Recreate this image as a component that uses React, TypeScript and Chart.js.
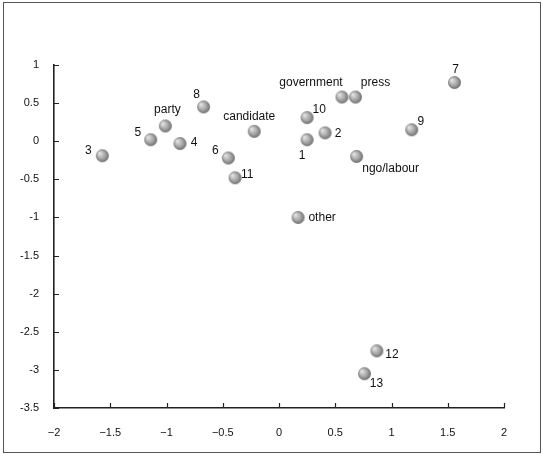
import React, { useEffect, useRef } from "react";
import { Chart, registerables } from "chart.js";

Chart.register(...registerables);

// ---- data ----
const pointNames = [
  "1", "2", "3", "4", "5", "6", "7", "8", "9", "10", "11", "12", "13",
  "party", "candidate", "government", "press", "ngo/labour", "other",
];
const xValues = [
  0.25, 0.41, -1.57, -0.88, -1.14, -0.45, 1.56, -0.67, 1.18, 0.25, -0.39, 0.87, 0.76,
  -1.01, -0.22, 0.56, 0.68, 0.69, 0.17,
];
const yValues = [
  0.02, 0.11, -0.19, -0.03, 0.02, -0.22, 0.77, 0.45, 0.15, 0.31, -0.48, -2.75, -3.05,
  0.2, 0.13, 0.58, 0.58, -0.2, -1.0,
];
const xAxisRange = [-2, 2];
const yAxisRange = [-3.5, 1];
const tickStep = 0.5;

// label placement relative to each point (pixels), purely presentational
const labelOffsets: [number, number][] = [
  [-5, 16], [13, 1], [-14, -5], [14, -1], [-13, -7], [-13, -7], [1, -13], [-7, -12],
  [9, -8], [12, -8], [12, -3], [15, 4], [12, 10],
  [2, -16], [-5, -15], [-31, -14], [20, -14], [34, 12], [24, 0],
];

const FONT = '"Liberation Sans", Arial, sans-serif';

function makeSphere(r: number): HTMLCanvasElement {
  const c = document.createElement("canvas");
  const s = Math.ceil(r * 2) + 2;
  c.width = s;
  c.height = s;
  const ctx = c.getContext("2d")!;
  const cx = s / 2;
  const cy = s / 2;
  const g = ctx.createRadialGradient(cx - r * 0.45, cy - r * 0.4, 0.5, cx, cy, r * 1.05);
  g.addColorStop(0, "#e4e4e4");
  g.addColorStop(0.55, "#a8a8a8");
  g.addColorStop(1, "#6a6a6a");
  ctx.fillStyle = g;
  ctx.beginPath();
  ctx.arc(cx, cy, r, 0, Math.PI * 2);
  ctx.fill();
  return c;
}

const framePlugin = {
  id: "frame",
  beforeDraw(chart: any) {
    const ctx = chart.ctx;
    ctx.save();
    ctx.fillStyle = "#ffffff";
    ctx.fillRect(0, 0, chart.width, chart.height);
    ctx.strokeStyle = "#555555";
    ctx.lineWidth = 1;
    ctx.strokeRect(3.5, 2.5, 537, 450);
    ctx.restore();
  },
};

const innerTicksPlugin = {
  id: "innerTicks",
  afterDraw(chart: any) {
    const ctx = chart.ctx;
    const xs = chart.scales.x;
    const ys = chart.scales.y;
    ctx.save();
    ctx.strokeStyle = "#222222";
    ctx.lineWidth = 1.2;
    ctx.beginPath();
    xs.ticks.forEach((t: any) => {
      const px = Math.round(xs.getPixelForValue(t.value)) + 0.5;
      ctx.moveTo(px, ys.bottom);
      ctx.lineTo(px, ys.bottom - 5);
    });
    ys.ticks.forEach((t: any) => {
      const py = Math.round(ys.getPixelForValue(t.value)) + 0.5;
      ctx.moveTo(xs.left, py);
      ctx.lineTo(xs.left + 5, py);
    });
    ctx.stroke();
    ctx.restore();
  },
};

const pointLabelPlugin = {
  id: "pointLabels",
  afterDatasetsDraw(chart: any) {
    const ctx = chart.ctx;
    const meta = chart.getDatasetMeta(0);
    ctx.save();
    ctx.font = `12px ${FONT}`;
    ctx.fillStyle = "#111111";
    ctx.textAlign = "center";
    ctx.textBaseline = "middle";
    meta.data.forEach((el: any, i: number) => {
      const [dx, dy] = labelOffsets[i] || [0, 0];
      ctx.fillText(pointNames[i], el.x + dx, el.y + dy);
    });
    ctx.restore();
  },
};

export default function App() {
  const ref = useRef<HTMLCanvasElement | null>(null);
  useEffect(() => {
    document.body.style.margin = "0";
    if (!ref.current) return;
    const sphere = makeSphere(6.5);
    const chart = new Chart(ref.current, {
      type: "scatter",
      data: {
        labels: pointNames,
        datasets: [
          {
            data: xValues.map((x, i) => ({ x, y: yValues[i] })),
            pointStyle: sphere as any,
            pointRadius: 7,
            pointHoverRadius: 7,
          },
        ],
      },
      options: {
        animation: false,
        responsive: false,
        devicePixelRatio: 1,
        events: [],
        layout: { padding: { left: 0, top: 65, right: 39, bottom: 0 } },
        plugins: {
          legend: { display: false },
          tooltip: { enabled: false },
        },
        scales: {
          x: {
            type: "linear",
            min: xAxisRange[0],
            max: xAxisRange[1],
            grid: { display: false },
            border: { display: true, color: "#222222", width: 1.6 },
            afterFit(scale: any) {
              scale.height = 46;
            },
            ticks: {
              stepSize: tickStep,
              padding: 10,
              color: "#111111",
              font: { size: 11, family: FONT },
              maxRotation: 0,
              callback: (v: any) => String(Number(v)).replace("-", "\u2212"),
            },
          },
          y: {
            type: "linear",
            min: yAxisRange[0],
            max: yAxisRange[1],
            grid: { display: false },
            border: { display: true, color: "#222222", width: 1.6 },
            afterFit(scale: any) {
              scale.width = 54;
            },
            ticks: {
              stepSize: tickStep,
              padding: 7,
              color: "#111111",
              font: { size: 11, family: FONT },
              callback: (v: any) => String(Number(v)),
            },
          },
        },
      },
      plugins: [framePlugin, innerTicksPlugin, pointLabelPlugin],
    });
    return () => chart.destroy();
  }, []);
  return (
    <div style={{ width: 543, height: 454 }}>
      <canvas ref={ref} width={543} height={454} style={{ display: "block" }} />
    </div>
  );
}
